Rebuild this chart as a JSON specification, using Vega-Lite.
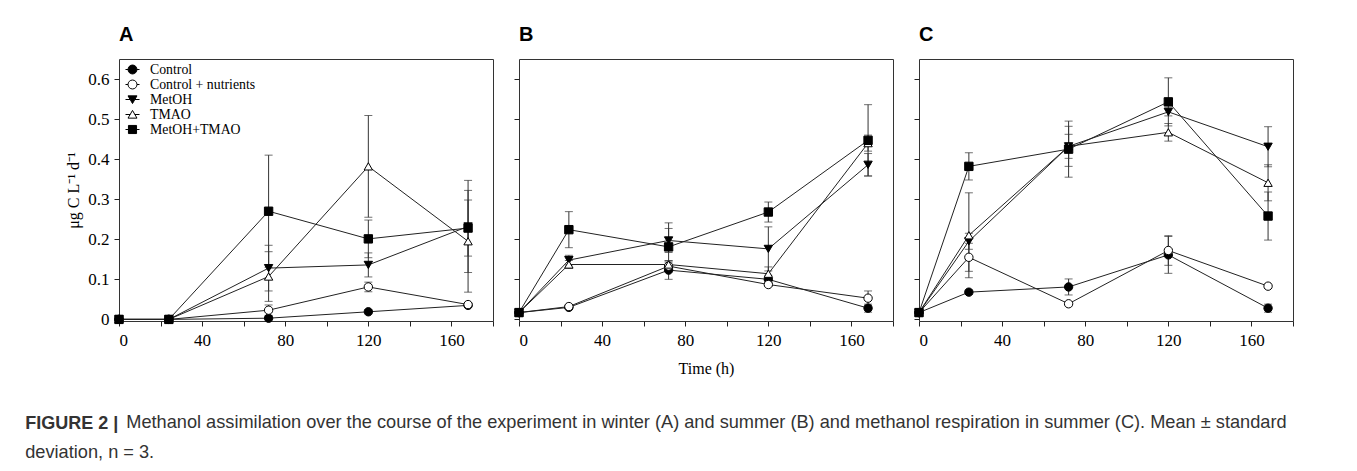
{
  "$schema": "https://vega.github.io/schema/vega-lite/v6.json",
  "background": "white",
  "padding": {"left": 25, "top": 24, "right": 5, "bottom": 5},
  "datasets": {
    "d": [
      {"p": "A", "s": "Control", "t": 0, "m": 0, "e": 0},
      {"p": "A", "s": "Control", "t": 24, "m": 0, "e": 0},
      {"p": "A", "s": "Control", "t": 72, "m": 0.003, "e": 0.003},
      {"p": "A", "s": "Control", "t": 120, "m": 0.019, "e": 0.005},
      {"p": "A", "s": "Control", "t": 168, "m": 0.035, "e": 0.005},
      {"p": "A", "s": "Control + nutrients", "t": 0, "m": 0, "e": 0},
      {"p": "A", "s": "Control + nutrients", "t": 24, "m": 0, "e": 0},
      {"p": "A", "s": "Control + nutrients", "t": 72, "m": 0.023, "e": 0.013},
      {"p": "A", "s": "Control + nutrients", "t": 120, "m": 0.081, "e": 0.012},
      {"p": "A", "s": "Control + nutrients", "t": 168, "m": 0.037, "e": 0.005},
      {"p": "A", "s": "MetOH", "t": 0, "m": 0, "e": 0},
      {"p": "A", "s": "MetOH", "t": 24, "m": 0, "e": 0},
      {"p": "A", "s": "MetOH", "t": 72, "m": 0.128, "e": 0.057},
      {"p": "A", "s": "MetOH", "t": 120, "m": 0.136, "e": 0.03},
      {"p": "A", "s": "MetOH", "t": 168, "m": 0.232, "e": 0.115},
      {"p": "A", "s": "TMAO", "t": 0, "m": 0, "e": 0},
      {"p": "A", "s": "TMAO", "t": 24, "m": 0, "e": 0},
      {"p": "A", "s": "TMAO", "t": 72, "m": 0.107, "e": 0.062},
      {"p": "A", "s": "TMAO", "t": 120, "m": 0.382, "e": 0.127},
      {"p": "A", "s": "TMAO", "t": 168, "m": 0.195, "e": 0.127},
      {"p": "A", "s": "MetOH+TMAO", "t": 0, "m": 0, "e": 0},
      {"p": "A", "s": "MetOH+TMAO", "t": 24, "m": 0, "e": 0},
      {"p": "A", "s": "MetOH+TMAO", "t": 72, "m": 0.27, "e": 0.14},
      {"p": "A", "s": "MetOH+TMAO", "t": 120, "m": 0.201, "e": 0.047},
      {"p": "A", "s": "MetOH+TMAO", "t": 168, "m": 0.228, "e": 0.07},

      {"p": "B", "s": "Control", "t": 0, "m": 0.017, "e": 0},
      {"p": "B", "s": "Control", "t": 24, "m": 0.03, "e": 0.003},
      {"p": "B", "s": "Control", "t": 72, "m": 0.123, "e": 0.023},
      {"p": "B", "s": "Control", "t": 120, "m": 0.1, "e": 0.01},
      {"p": "B", "s": "Control", "t": 168, "m": 0.028, "e": 0.01},
      {"p": "B", "s": "Control + nutrients", "t": 0, "m": 0.017, "e": 0},
      {"p": "B", "s": "Control + nutrients", "t": 24, "m": 0.032, "e": 0.003},
      {"p": "B", "s": "Control + nutrients", "t": 72, "m": 0.133, "e": 0.01},
      {"p": "B", "s": "Control + nutrients", "t": 120, "m": 0.087, "e": 0.005},
      {"p": "B", "s": "Control + nutrients", "t": 168, "m": 0.053, "e": 0.018},
      {"p": "B", "s": "MetOH", "t": 0, "m": 0.017, "e": 0},
      {"p": "B", "s": "MetOH", "t": 24, "m": 0.148, "e": 0.012},
      {"p": "B", "s": "MetOH", "t": 72, "m": 0.197, "e": 0.03},
      {"p": "B", "s": "MetOH", "t": 120, "m": 0.176, "e": 0.055},
      {"p": "B", "s": "MetOH", "t": 168, "m": 0.386, "e": 0.028},
      {"p": "B", "s": "TMAO", "t": 0, "m": 0.017, "e": 0},
      {"p": "B", "s": "TMAO", "t": 24, "m": 0.137, "e": 0.01},
      {"p": "B", "s": "TMAO", "t": 72, "m": 0.137, "e": 0.01},
      {"p": "B", "s": "TMAO", "t": 120, "m": 0.114, "e": 0.017},
      {"p": "B", "s": "TMAO", "t": 168, "m": 0.44, "e": 0.02},
      {"p": "B", "s": "MetOH+TMAO", "t": 0, "m": 0.017, "e": 0},
      {"p": "B", "s": "MetOH+TMAO", "t": 24, "m": 0.224, "e": 0.045},
      {"p": "B", "s": "MetOH+TMAO", "t": 72, "m": 0.181, "e": 0.06},
      {"p": "B", "s": "MetOH+TMAO", "t": 120, "m": 0.268, "e": 0.025},
      {"p": "B", "s": "MetOH+TMAO", "t": 168, "m": 0.447, "e": 0.089},

      {"p": "C", "s": "Control", "t": 0, "m": 0.017, "e": 0},
      {"p": "C", "s": "Control", "t": 24, "m": 0.068, "e": 0.005},
      {"p": "C", "s": "Control", "t": 72, "m": 0.081, "e": 0.02},
      {"p": "C", "s": "Control", "t": 120, "m": 0.161, "e": 0.046},
      {"p": "C", "s": "Control", "t": 168, "m": 0.028, "e": 0.01},
      {"p": "C", "s": "Control + nutrients", "t": 0, "m": 0.017, "e": 0},
      {"p": "C", "s": "Control + nutrients", "t": 24, "m": 0.155, "e": 0.035},
      {"p": "C", "s": "Control + nutrients", "t": 72, "m": 0.039, "e": 0.005},
      {"p": "C", "s": "Control + nutrients", "t": 120, "m": 0.172, "e": 0.037},
      {"p": "C", "s": "Control + nutrients", "t": 168, "m": 0.083, "e": 0.005},
      {"p": "C", "s": "MetOH", "t": 0, "m": 0.017, "e": 0},
      {"p": "C", "s": "MetOH", "t": 24, "m": 0.195, "e": 0.02},
      {"p": "C", "s": "MetOH", "t": 72, "m": 0.432, "e": 0.05},
      {"p": "C", "s": "MetOH", "t": 120, "m": 0.518, "e": 0.01},
      {"p": "C", "s": "MetOH", "t": 168, "m": 0.431, "e": 0.05},
      {"p": "C", "s": "TMAO", "t": 0, "m": 0.017, "e": 0},
      {"p": "C", "s": "TMAO", "t": 24, "m": 0.21, "e": 0.106},
      {"p": "C", "s": "TMAO", "t": 72, "m": 0.432, "e": 0.03},
      {"p": "C", "s": "TMAO", "t": 120, "m": 0.467, "e": 0.022},
      {"p": "C", "s": "TMAO", "t": 168, "m": 0.341, "e": 0.045},
      {"p": "C", "s": "MetOH+TMAO", "t": 0, "m": 0.017, "e": 0},
      {"p": "C", "s": "MetOH+TMAO", "t": 24, "m": 0.382, "e": 0.034},
      {"p": "C", "s": "MetOH+TMAO", "t": 72, "m": 0.425, "e": 0.07},
      {"p": "C", "s": "MetOH+TMAO", "t": 120, "m": 0.543, "e": 0.06},
      {"p": "C", "s": "MetOH+TMAO", "t": 168, "m": 0.258, "e": 0.06}
    ]
  },
  "config": {
    "view": {"stroke": "#333", "strokeWidth": 1},
    "axis": {
      "grid": false, "domain": false, "tickColor": "#222", "tickSize": 5,
      "labelFont": "Liberation Serif", "labelFontSize": 17, "labelColor": "black",
      "titleFont": "Liberation Serif", "titleFontSize": 16, "titleFontWeight": "normal", "titleColor": "black"
    },
    "title": {"font": "Liberation Sans", "fontSize": 20, "fontWeight": "bold", "anchor": "start", "color": "black"}
  },
  "title": {
    "text": "Methanol assimilation over the course of the experiment in winter (A) and summer (B) and methanol respiration in summer (C). Mean ± standard",
    "orient": "bottom", "anchor": "start", "frame": "bounds",
    "font": "Liberation Sans", "fontSize": 18.2, "fontWeight": "normal", "color": "#333",
    "offset": -47, "dx": 101
  },
  "vconcat": [
    {
      "title": {
        "text": "FIGURE 2 |", "subtitle": "deviation, n = 3.",
        "orient": "bottom", "anchor": "start", "frame": "bounds",
        "font": "Liberation Sans", "fontSize": 18, "fontWeight": "bold", "color": "#333",
        "subtitleFont": "Liberation Sans", "subtitleFontSize": 18.2, "subtitleColor": "#333", "subtitlePadding": 11,
        "offset": 38, "dx": -40
      },
      "spacing": 18,
      "hconcat": [
        {
          "width": 374, "height": 262,
          "title": {"text": "A", "frame": "group", "offset": 14},
          "data": {"name": "d"},
          "transform": [{"filter": "datum.p == 'A'"}],
          "encoding": {
            "x": {"field": "t", "type": "quantitative", "scale": {"domain": [0, 180]},
                  "axis": {"values": [0, 20, 40, 60, 80, 100, 120, 140, 160, 180], "labelExpr": "datum.value % 40 == 0 ? datum.label : ''", "title": null, "labelPadding": 6}},
            "y": {"field": "m", "type": "quantitative", "scale": {"domain": [-0.004, 0.65]},
                  "axis": {"values": [0, 0.1, 0.2, 0.3, 0.4, 0.5, 0.6], "labelExpr": "datum.value == 0 ? '0' : format(datum.value, '.1f')", "title": "μg C L⁻¹ d⁻¹", "titlePadding": 6, "labelPadding": 5}}
          },
          "layer": [
            {"mark": {"type": "errorbar", "color": "#333", "thickness": 1, "ticks": {"size": 8, "thickness": 1, "color": "#333"}},
             "encoding": {"yError": {"field": "e"}, "detail": {"field": "s"}}},
            {"mark": {"type": "line", "color": "#222", "strokeWidth": 1},
             "encoding": {"detail": {"field": "s"}}},
            {"mark": {"type": "point", "filled": true, "stroke": "black", "strokeWidth": 1, "size": 70, "opacity": 1},
             "encoding": {
               "shape": {"field": "s", "type": "nominal", "scale": {"domain": ["Control", "Control + nutrients", "MetOH", "TMAO", "MetOH+TMAO"], "range": ["circle", "circle", "triangle-down", "triangle-up", "square"]}, "legend": null},
               "fill": {"field": "s", "type": "nominal", "scale": {"domain": ["Control", "Control + nutrients", "MetOH", "TMAO", "MetOH+TMAO"], "range": ["black", "white", "black", "white", "black"]}, "legend": null}
             }},
            {"mark": {"type": "point", "filled": true, "stroke": "black", "strokeWidth": 1, "opacity": 0},
             "encoding": {
               "shape": {"field": "s", "type": "nominal",
                 "scale": {"domain": ["Control", "Control + nutrients", "MetOH", "TMAO", "MetOH+TMAO"],
                   "range": [
                     "M-1,0H-0.64M0.64,0H1M-0.64,0A0.64,0.64 0 1,0 0.64,0A0.64,0.64 0 1,0 -0.64,0Z",
                     "M-1,0H-0.64M0.64,0H1M-0.64,0A0.64,0.64 0 1,0 0.64,0A0.64,0.64 0 1,0 -0.64,0Z",
                     "M-1,0H-0.33M0.33,0H1M-0.64,-0.52L0.64,-0.52L0,0.58Z",
                     "M-1,0H-0.33M0.33,0H1M-0.64,0.52L0.64,0.52L0,-0.58Z",
                     "M-1,0H-0.58M0.58,0H1M-0.58,-0.58H0.58V0.58H-0.58Z"
                   ]},
                 "legend": {"title": null, "orient": "none", "legendX": 6, "legendY": 3, "padding": 0, "symbolSize": 196, "symbolStrokeWidth": 1, "symbolOpacity": 1, "labelFont": "Liberation Serif", "labelFontSize": 13.8, "labelColor": "black", "labelOffset": 10, "rowPadding": -1}},
               "fill": {"field": "s", "type": "nominal",
                 "scale": {"domain": ["Control", "Control + nutrients", "MetOH", "TMAO", "MetOH+TMAO"], "range": ["black", "white", "black", "white", "black"]},
                 "legend": {"title": null, "orient": "none", "legendX": 6, "legendY": 3, "padding": 0, "symbolSize": 196, "symbolStrokeWidth": 1, "symbolOpacity": 1, "labelFont": "Liberation Serif", "labelFontSize": 13.8, "labelColor": "black", "labelOffset": 10, "rowPadding": -1}}
             }}
          ],
          "resolve": {"scale": {"shape": "independent", "fill": "independent"}}
        },
        {
          "width": 374, "height": 262,
          "title": {"text": "B", "frame": "group", "offset": 14},
          "data": {"name": "d"},
          "transform": [{"filter": "datum.p == 'B'"}],
          "encoding": {
            "x": {"field": "t", "type": "quantitative", "scale": {"domain": [0, 180]},
                  "axis": {"values": [0, 20, 40, 60, 80, 100, 120, 140, 160, 180], "labelExpr": "datum.value % 40 == 0 ? datum.label : ''", "title": "Time (h)", "titlePadding": 12, "labelPadding": 6}},
            "y": {"field": "m", "type": "quantitative", "scale": {"domain": [-0.004, 0.65]},
                  "axis": {"values": [0, 0.1, 0.2, 0.3, 0.4, 0.5, 0.6], "labels": false, "title": null}}
          },
          "layer": [
            {"mark": {"type": "errorbar", "color": "#333", "thickness": 1, "ticks": {"size": 8, "thickness": 1, "color": "#333"}},
             "encoding": {"yError": {"field": "e"}, "detail": {"field": "s"}}},
            {"mark": {"type": "line", "color": "#222", "strokeWidth": 1},
             "encoding": {"detail": {"field": "s"}}},
            {"mark": {"type": "point", "filled": true, "stroke": "black", "strokeWidth": 1, "size": 70, "opacity": 1},
             "encoding": {
               "shape": {"field": "s", "type": "nominal", "scale": {"domain": ["Control", "Control + nutrients", "MetOH", "TMAO", "MetOH+TMAO"], "range": ["circle", "circle", "triangle-down", "triangle-up", "square"]}, "legend": null},
               "fill": {"field": "s", "type": "nominal", "scale": {"domain": ["Control", "Control + nutrients", "MetOH", "TMAO", "MetOH+TMAO"], "range": ["black", "white", "black", "white", "black"]}, "legend": null}
             }}
          ]
        },
        {
          "width": 374, "height": 262,
          "title": {"text": "C", "frame": "group", "offset": 14},
          "data": {"name": "d"},
          "transform": [{"filter": "datum.p == 'C'"}],
          "encoding": {
            "x": {"field": "t", "type": "quantitative", "scale": {"domain": [0, 180]},
                  "axis": {"values": [0, 20, 40, 60, 80, 100, 120, 140, 160, 180], "labelExpr": "datum.value % 40 == 0 ? datum.label : ''", "title": null, "labelPadding": 6}},
            "y": {"field": "m", "type": "quantitative", "scale": {"domain": [-0.004, 0.65]},
                  "axis": {"values": [0, 0.1, 0.2, 0.3, 0.4, 0.5, 0.6], "labels": false, "title": null}}
          },
          "layer": [
            {"mark": {"type": "errorbar", "color": "#333", "thickness": 1, "ticks": {"size": 8, "thickness": 1, "color": "#333"}},
             "encoding": {"yError": {"field": "e"}, "detail": {"field": "s"}}},
            {"mark": {"type": "line", "color": "#222", "strokeWidth": 1},
             "encoding": {"detail": {"field": "s"}}},
            {"mark": {"type": "point", "filled": true, "stroke": "black", "strokeWidth": 1, "size": 70, "opacity": 1},
             "encoding": {
               "shape": {"field": "s", "type": "nominal", "scale": {"domain": ["Control", "Control + nutrients", "MetOH", "TMAO", "MetOH+TMAO"], "range": ["circle", "circle", "triangle-down", "triangle-up", "square"]}, "legend": null},
               "fill": {"field": "s", "type": "nominal", "scale": {"domain": ["Control", "Control + nutrients", "MetOH", "TMAO", "MetOH+TMAO"], "range": ["black", "white", "black", "white", "black"]}, "legend": null}
             }}
          ]
        }
      ]
    }
  ]
}
